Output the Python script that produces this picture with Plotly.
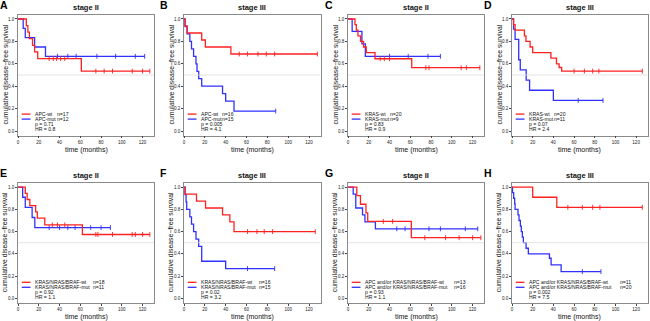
import plotly.graph_objects as go

# ---------------- data ----------------
TITLES = ["stage II", "stage III", "stage II", "stage III",
          "stage II", "stage III", "stage II", "stage III"]
LETTERS = ["A", "B", "C", "D", "E", "F", "G", "H"]

WT_LABELS = ["APC-wt", "APC-wt", "KRAS-wt", "KRAS-wt",
             "KRAS/NRAS/BRAF-wt", "KRAS/NRAS/BRAF-wt",
             "APC and/or KRAS/NRAS/BRAF-wt", "APC and/or KRAS/NRAS/BRAF-wt"]
MUT_LABELS = ["APC-mut", "APC-mut", "KRAS-mut", "KRAS-mut",
              "KRAS/NRAS/BRAF-mut", "KRAS/NRAS/BRAF-mut",
              "APC and/or KRAS/NRAS/BRAF-mut", "APC and/or KRAS/NRAS/BRAF-mut"]
N_WT = [17, 16, 20, 20, 18, 16, 13, 11]
N_MUT = [12, 15, 9, 11, 11, 15, 16, 20]
P_VALUES = ["0.71", "0.005", "0.83", "0.07", "0.92", "0.02", "0.93", "0.002"]
HR_VALUES = ["0.8", "4.1", "0.9", "2.4", "1.1", "3.2", "1.1", "7.5"]

X_TICKS = [0, 20, 40, 60, 80, 100, 120]
Y_TICKS = [0.0, 0.2, 0.4, 0.6, 0.8, 1.0]
Y_TICK_TEXT = ["0.0", "0.2", "0.4", "0.6", "0.8", "1.0"]
REF_LEVEL = 0.5

# Panel A
A_wt_t = [8, 9.5, 11, 14, 16, 19, 61]
A_wt_s = [0.941, 0.882, 0.824, 0.765, 0.706, 0.647, 0.535]
A_wt_end = 127
A_wt_c = [30, 34, 37, 41, 45, 75, 83, 91, 110, 120, 127]
A_mut_t = [5, 7, 16, 26.5]
A_mut_s = [0.917, 0.833, 0.75, 0.667]
A_mut_end = 122
A_mut_c = [38, 48, 56, 76, 94, 113, 122]

# Panel B
B_wt_t = [1, 3, 17, 20.5, 45]
B_wt_s = [0.9375, 0.875, 0.8125, 0.75, 0.6875]
B_wt_end = 128
B_wt_c = [53, 61, 71, 79, 87, 128]
B_mut_t = [1, 3, 5.6, 7.2, 9.2, 11.5, 12.5, 14.1, 17, 37, 40, 48]
B_mut_s = [0.933, 0.867, 0.8, 0.733, 0.667, 0.6, 0.533, 0.467, 0.4, 0.333, 0.267, 0.178]
B_mut_end = 88
B_mut_c = [88]

# Panel C
C_wt_t = [6.7, 8, 9.6, 12, 15, 17.6, 26, 61.4]
C_wt_s = [0.95, 0.90, 0.85, 0.80, 0.75, 0.70, 0.645, 0.565]
C_wt_end = 127
C_wt_c = [31, 35, 40, 75, 78, 109, 114, 127]
C_mut_t = [4, 13.4, 16.7]
C_mut_s = [0.889, 0.778, 0.667]
C_mut_end = 89
C_mut_c = [40, 58, 77, 89]

# Panel D
D_wt_t = [1.5, 3, 12, 13.5, 17.5, 20, 37.6, 43, 45.6, 48]
D_wt_s = [0.95, 0.90, 0.85, 0.80, 0.75, 0.70, 0.65, 0.60, 0.567, 0.535]
D_wt_end = 126
D_wt_c = [60, 70, 78, 84, 126]
D_mut_t = [1.5, 3, 6.5, 8, 13.7, 17, 40]
D_mut_s = [0.909, 0.818, 0.636, 0.545, 0.455, 0.364, 0.273]
D_mut_end = 88
D_mut_c = [64, 88]

# Panel E
E_wt_t = [7, 8.8, 11.4, 17, 18.6, 25.8, 62]
E_wt_s = [0.944, 0.889, 0.833, 0.778, 0.722, 0.66, 0.574]
E_wt_end = 127
E_wt_c = [33, 38, 45, 75, 77, 91, 110, 113, 120, 127]
E_mut_t = [4.5, 7, 13.6, 16.2]
E_mut_s = [0.909, 0.818, 0.727, 0.636]
E_mut_end = 89
E_mut_c = [30, 40, 48, 55, 70, 80, 89]

# Panel F
F_wt_t = [1, 12, 20.7, 37, 44, 48]
F_wt_s = [0.9375, 0.875, 0.8125, 0.75, 0.6875, 0.60]
F_wt_end = 126
F_wt_c = [61, 70, 77, 85, 126]
F_mut_t = [1, 2, 2.6, 5.6, 7.2, 9.2, 11.5, 14.1, 17, 40]
F_mut_s = [0.933, 0.867, 0.8, 0.733, 0.667, 0.6, 0.533, 0.467, 0.333, 0.267]
F_mut_end = 87
F_mut_c = [61, 87]

# Panel G
G_wt_t = [8.5, 12, 17.3, 19, 61]
G_wt_s = [0.923, 0.846, 0.769, 0.692, 0.545]
G_wt_end = 128
G_wt_c = [34, 43, 74, 94, 107, 120, 128]
G_mut_t = [5, 7.5, 14, 16.3, 26.4]
G_mut_s = [0.9375, 0.8125, 0.75, 0.6875, 0.625]
G_mut_end = 125
G_mut_c = [47, 55, 78, 89, 113, 125]

# Panel H
H_wt_t = [20, 43.3]
H_wt_s = [0.909, 0.818]
H_wt_end = 126
H_wt_c = [54, 68, 78, 85, 126]
H_mut_t = [0.5, 1.6, 2.6, 3.0, 5.8, 6.8, 8.1, 9.0, 10.0, 11.0, 13.6, 15.8, 36.2, 37.8, 47.5]
H_mut_s = [0.95, 0.90, 0.85, 0.80, 0.75, 0.70, 0.65, 0.60, 0.55, 0.50, 0.45, 0.40, 0.36, 0.30, 0.24]
H_mut_end = 86
H_mut_c = [68, 86]

CURVES = [
    (A_wt_t, A_wt_s, A_wt_end, A_wt_c, A_mut_t, A_mut_s, A_mut_end, A_mut_c),
    (B_wt_t, B_wt_s, B_wt_end, B_wt_c, B_mut_t, B_mut_s, B_mut_end, B_mut_c),
    (C_wt_t, C_wt_s, C_wt_end, C_wt_c, C_mut_t, C_mut_s, C_mut_end, C_mut_c),
    (D_wt_t, D_wt_s, D_wt_end, D_wt_c, D_mut_t, D_mut_s, D_mut_end, D_mut_c),
    (E_wt_t, E_wt_s, E_wt_end, E_wt_c, E_mut_t, E_mut_s, E_mut_end, E_mut_c),
    (F_wt_t, F_wt_s, F_wt_end, F_wt_c, F_mut_t, F_mut_s, F_mut_end, F_mut_c),
    (G_wt_t, G_wt_s, G_wt_end, G_wt_c, G_mut_t, G_mut_s, G_mut_end, G_mut_c),
    (H_wt_t, H_wt_s, H_wt_end, H_wt_c, H_mut_t, H_mut_s, H_mut_end, H_mut_c),
]

# ---------------- layout / style ----------------
W, H = 650, 321
FONT = "Liberation Sans, Arial, Helvetica, sans-serif"
RED = "#ff2020"
BLUE = "#3030ff"
BOX = "#8a8a8a"
LEG_SIZE = 5.1

COLS = [(18, 154), (184, 320.5), (348, 484), (512, 647.5)]
ROWS = [(14.5, 135.5), (182.7, 302.7)]
N_OFFSET = [37, 36, 40, 40, 73, 73, 104, 106]   # px from box left to "n=" column
LETTER_X = [3.5, 163.5, 328.5, 488.5]


def fx(p):
    return p / W


def fy(p):
    return 1 - p / H


def step_xy(times, surv, end):
    return [0] + list(times) + [end], [1.0] + list(surv) + [surv[-1]]


def surv_at(times, surv, c):
    s = 1.0
    for t, v in zip(times, surv):
        if t <= c:
            s = v
    return s


fig = go.Figure()
layout = dict(
    width=W, height=H, margin=dict(l=0, r=0, t=0, b=0),
    paper_bgcolor="white", plot_bgcolor="white", showlegend=False,
    font=dict(family=FONT, color="#111"),
)
annotations = []
shapes = []

for i in range(8):
    k = i + 1
    xa = "x" if k == 1 else f"x{k}"
    ya = "y" if k == 1 else f"y{k}"
    col = COLS[i % 4]
    row = ROWS[i // 4]
    wt_t, wt_s, wt_end, wt_c, mu_t, mu_s, mu_end, mu_c = CURVES[i]

    for (tt, ss, ee, cc, colr) in [(mu_t, mu_s, mu_end, mu_c, BLUE), (wt_t, wt_s, wt_end, wt_c, RED)]:
        x, y = step_xy(tt, ss, ee)
        fig.add_trace(go.Scatter(x=x, y=y, mode="lines", line=dict(color=colr, width=1.3, shape="hv"),
                                 xaxis=xa, yaxis=ya, hoverinfo="skip"))
        fig.add_trace(go.Scatter(x=cc, y=[surv_at(tt, ss, c) for c in cc], mode="markers",
                                 marker=dict(symbol="line-ns", size=3.5, line=dict(color=colr, width=0.9)),
                                 xaxis=xa, yaxis=ya, hoverinfo="skip"))

    axkey = "xaxis" if k == 1 else f"xaxis{k}"
    aykey = "yaxis" if k == 1 else f"yaxis{k}"
    layout[axkey] = dict(
        domain=[fx(col[0]), fx(col[1])], anchor=ya, range=[0, 131],
        tickvals=X_TICKS, ticks="outside", ticklen=2, tickwidth=0.6, tickcolor="#444",
        showline=True, mirror=True, linecolor=BOX, linewidth=0.8,
        showgrid=False, zeroline=False, tickfont=dict(size=4.5, color="#222", family=FONT),
    )
    layout[aykey] = dict(
        domain=[fy(row[1]), fy(row[0])], anchor=xa, range=[-0.04, 1.04],
        tickvals=Y_TICKS, ticktext=Y_TICK_TEXT, ticks="outside", ticklen=2, tickwidth=0.6,
        tickcolor="#444", showline=True, mirror=True, linecolor=BOX, linewidth=0.8,
        showgrid=False, zeroline=False, tickfont=dict(size=4.5, color="#222", family=FONT),
    )

    # reference line at 0.5
    shapes.append(dict(type="line", xref=f"{xa} domain", yref=ya, x0=0, x1=1,
                       y0=REF_LEVEL, y1=REF_LEVEL, line=dict(color="#dcdcdc", width=0.8)))

    cx = (col[0] + col[1]) / 2
    # title
    annotations.append(dict(text="<b>" + TITLES[i] + "</b>", x=fx(cx), y=fy(row[0] - 7),
                            xref="paper", yref="paper", showarrow=False, xanchor="center",
                            yanchor="middle", font=dict(size=7.5, color="#111")))
    # panel letter
    annotations.append(dict(text="<b>" + LETTERS[i] + "</b>", x=fx(LETTER_X[i % 4]), y=fy(row[0] - 9.5),
                            xref="paper", yref="paper", showarrow=False, xanchor="center",
                            yanchor="middle", font=dict(size=10.5, color="#000")))
    # x title
    annotations.append(dict(text="time (months)", x=fx(cx), y=fy(row[1] + 14.5),
                            xref="paper", yref="paper", showarrow=False, xanchor="center",
                            yanchor="middle", font=dict(size=7, color="#111")))
    # y title
    annotations.append(dict(text="cumulative disease\u2212free survival", x=fx(col[0] - 13.5),
                            y=fy((row[0] + row[1]) / 2), xref="paper", yref="paper", showarrow=False,
                            xanchor="center", yanchor="middle", textangle=-90,
                            font=dict(size=6.9, color="#111")))
    # legend
    ly0 = row[0] + 99.6
    dy = 5.0
    for j, (lab, n, colr) in enumerate([(WT_LABELS[i], N_WT[i], RED), (MUT_LABELS[i], N_MUT[i], BLUE)]):
        yy = ly0 + j * dy
        shapes.append(dict(type="line", xref="paper", yref="paper", x0=fx(col[0] + 3.7),
                           x1=fx(col[0] + 12.5), y0=fy(yy), y1=fy(yy), line=dict(color=colr, width=1.3)))
        annotations.append(dict(text=lab, x=fx(col[0] + 15), y=fy(yy), xref="paper", yref="paper",
                                showarrow=False, xanchor="left", yanchor="middle",
                                font=dict(size=LEG_SIZE, color="#111")))
        annotations.append(dict(text=f"n={n}", x=fx(col[0] + N_OFFSET[i]), y=fy(yy), xref="paper",
                                yref="paper", showarrow=False, xanchor="left", yanchor="middle",
                                font=dict(size=LEG_SIZE, color="#111")))
    annotations.append(dict(text=f"p = {P_VALUES[i]}", x=fx(col[0] + 15), y=fy(ly0 + 2 * dy),
                            xref="paper", yref="paper", showarrow=False, xanchor="left",
                            yanchor="middle", font=dict(size=LEG_SIZE, color="#111")))
    annotations.append(dict(text=f"HR = {HR_VALUES[i]}", x=fx(col[0] + 15), y=fy(ly0 + 3 * dy),
                            xref="paper", yref="paper", showarrow=False, xanchor="left",
                            yanchor="middle", font=dict(size=LEG_SIZE, color="#111")))

layout["annotations"] = annotations
layout["shapes"] = shapes
fig.update_layout(**layout)
fig.write_html("out.html", config={"displayModeBar": False},
               post_script="document.body.style.margin='0';document.body.style.overflow='hidden';")
